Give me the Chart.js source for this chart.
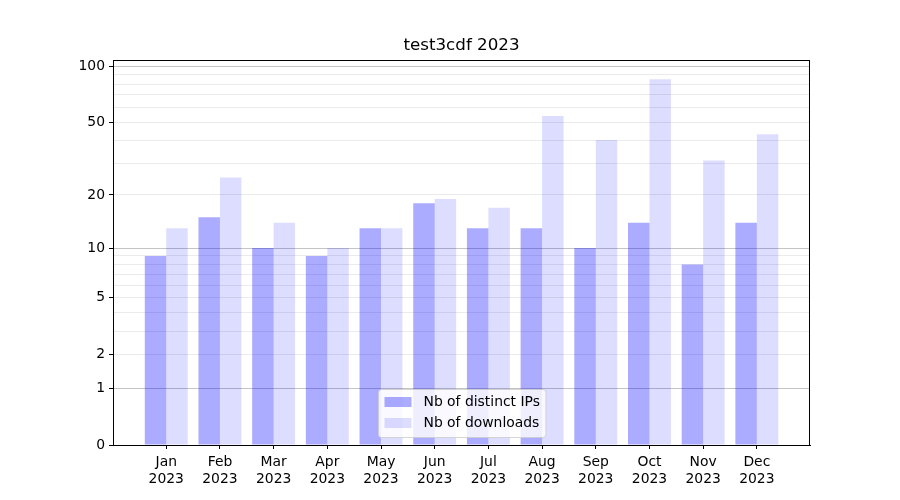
<!DOCTYPE html>
<html>
<head>
<meta charset="utf-8">
<script src="https://cdn.jsdelivr.net/npm/chart.js@4.4.0/dist/chart.umd.min.js"></script>
<style>
  html, body { margin: 0; background: #fff; }
  canvas { display: block; }
</style>
</head>
<body>
<canvas id="downloadsChart" width="900" height="500"></canvas>
<script>
// --- DATA ---
const months = ['Jan', 'Feb', 'Mar', 'Apr', 'May', 'Jun', 'Jul', 'Aug', 'Sep', 'Oct', 'Nov', 'Dec'];
const year = '2023';
const distinctIps = [9, 15, 10, 9, 13, 18, 13, 13, 10, 14, 8, 14];
const downloads = [13, 25, 14, 10, 13, 19, 17, 54, 40, 85, 31, 43];
const yTickLabels = [0, 1, 2, 5, 10, 20, 50, 100];
const yMinorTicks = [3, 4, 6, 7, 8, 9, 30, 40, 60, 70, 80, 90];
const yMajorGrid = [1, 10, 100];

const FONT = "'DejaVu Sans', sans-serif";

// y axis is log10(1 + v)
const fwd = (v) => Math.log10(1 + v);
const inv = (t) => Math.round(Math.pow(10, t) - 1);

const toPoints = (arr) => arr.map((v, i) => ({ x: i, y: fwd(v) }));

// frame + legend drawn on top, like matplotlib
const framePlugin = {
  id: 'frame',
  afterDraw(chart) {
    const { ctx, chartArea: a } = chart;
    ctx.save();
    ctx.strokeStyle = '#000';
    ctx.lineWidth = 1;
    ctx.strokeRect(Math.round(a.left) + 0.5, Math.round(a.top) + 0.5,
      Math.round(a.right - a.left) - 1, Math.round(a.bottom - a.top));

    // legend, lower center
    const ds = chart.data.datasets;
    ctx.font = '13.9px ' + FONT;
    const textW = Math.max(...ds.map((d) => ctx.measureText(d.label).width));
    const pad = 6, handleW = 27, handleH = 10, gap = 12, rowH = 21;
    const w = pad + handleW + gap + textW + pad;
    const h = 8 + rowH * ds.length - 2;
    const x = Math.round((a.left + a.right) / 2 - w / 2) + 0.5;
    const y = Math.round(a.bottom - 8 - h) + 0.5;
    ctx.fillStyle = 'rgba(255,255,255,0.8)';
    ctx.strokeStyle = 'rgba(204,204,204,0.8)';
    ctx.beginPath();
    ctx.roundRect(x, y, w, h, 3);
    ctx.fill();
    ctx.stroke();
    ds.forEach((d, i) => {
      const cy = y + 12.5 + i * rowH;
      ctx.fillStyle = d.backgroundColor;
      ctx.fillRect(x + pad, cy - handleH / 2, handleW, handleH);
      ctx.fillStyle = '#000';
      ctx.textBaseline = 'middle';
      ctx.textAlign = 'left';
      ctx.fillText(d.label, x + pad + handleW + gap, cy);
    });
    ctx.restore();
  },
};

new Chart(document.getElementById('downloadsChart'), {
  type: 'bar',
  data: {
    datasets: [
      {
        label: 'Nb of distinct IPs',
        data: toPoints(distinctIps),
        backgroundColor: 'rgba(0,0,255,0.33)',
        borderWidth: 0,
        categoryPercentage: 0.8,
        barPercentage: 1.0,
      },
      {
        label: 'Nb of downloads',
        data: toPoints(downloads),
        backgroundColor: 'rgba(0,0,255,0.133)',
        borderWidth: 0,
        categoryPercentage: 0.8,
        barPercentage: 1.0,
      },
    ],
  },
  plugins: [framePlugin],
  options: {
    responsive: false,
    animation: false,
    // left/right padding keeps the title centred on the plot area
    layout: { padding: { left: 23, right: 0, top: 0, bottom: 0 } },
    plugins: {
      legend: { display: false },
      tooltip: { enabled: false },
      title: {
        display: true,
        text: 'test3cdf ' + year,
        color: '#000',
        font: { family: FONT, size: 16.7, weight: 'normal' },
        padding: { top: 36, bottom: 4 },
      },
    },
    scales: {
      x: {
        type: 'linear',
        offset: false,
        min: -0.992,
        max: 11.99,
        afterBuildTicks: (s) => { s.ticks = months.map((m, i) => ({ value: i })); },
        afterFit: (s) => { s.height = 55; },
        ticks: {
          autoSkip: false,
          maxRotation: 0,
          padding: 5,
          color: '#000',
          font: { family: FONT, size: 13.9 },
          callback: (v) => [months[v], year],
        },
        grid: { offset: false, drawOnChartArea: false, color: '#000', tickColor: '#000', tickLength: 4 },
        border: { color: '#000' },
      },
      y: {
        type: 'linear',
        min: 0,
        max: 2.036,
        z: 1,
        afterBuildTicks: (s) => {
          s.ticks = [...yTickLabels, ...yMinorTicks].sort((a, b) => a - b).map((v) => ({ value: fwd(v) }));
        },
        afterFit: (s) => { s.width = 90; },
        ticks: {
          padding: 4,
          color: '#000',
          font: { family: FONT, size: 13.9 },
          callback: (t) => (yTickLabels.includes(inv(t)) ? String(inv(t)) : ''),
        },
        grid: {
          tickLength: 4,
          color: (c) => {
            const v = inv(c.tick.value);
            if (v === 0) return 'rgba(0,0,0,0)';
            return yMajorGrid.includes(v) ? '#c4c4c4' : '#ebebeb';
          },
          tickColor: (c) => (yTickLabels.includes(inv(c.tick.value)) ? '#000' : 'rgba(0,0,0,0)'),
        },
        border: { color: '#000' },
      },
      // empty right-hand space (the figure margin)
      margin: {
        type: 'linear',
        position: 'right',
        ticks: { display: false },
        grid: { display: false },
        border: { display: false },
        afterFit: (s) => { s.width = 90; },
      },
    },
  },
});
</script>
</body>
</html>
